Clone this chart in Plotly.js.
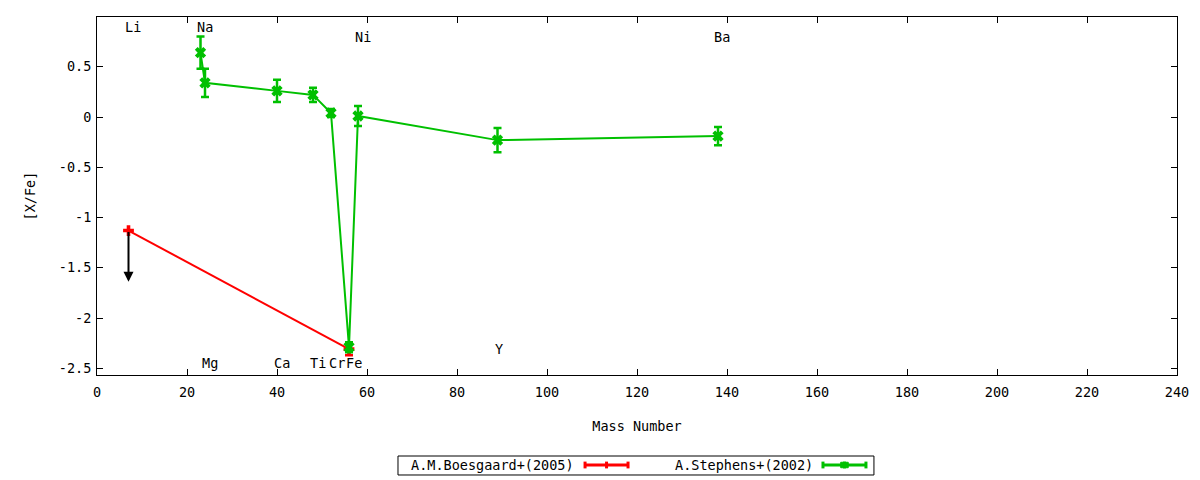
<!DOCTYPE html>
<html><head><meta charset="utf-8">
<script src="https://cdn.plot.ly/plotly-3.0.1.min.js"></script>
<style>html,body{margin:0;padding:0;background:#fff}#chart{width:1200px;height:480px}</style>
</head><body><div id="chart"></div>
<script>
// ---- data ----
const boesgaardName = "A.M.Boesgaard+(2005)";
const boesgaardMass = [7, 56];
const boesgaardValue = [-1.13, -2.31];
const boesgaardError = [0, 0.06];

const stephensName = "A.Stephens+(2002)";
const stephensMass = [23, 24, 40, 48, 52, 56, 58, 89, 138];
const stephensValue = [0.64, 0.34, 0.26, 0.22, 0.04, -2.29, 0.01, -0.23, -0.19];
const stephensError = [0.16, 0.14, 0.11, 0.07, 0.04, 0.05, 0.10, 0.12, 0.09];

// upper limit (arrow) for Li
const upperLimitMass = [7];
const upperLimitFrom = [-1.13];
const upperLimitTo = [-1.64];

// element labels
const elementNames  = ["Li", "Na", "Mg", "Ca", "Ti", "Cr", "Fe", "Ni", "Y", "Ba"];
const elementLabelX = [8.0, 24.0, 25.1, 41.1, 49.2, 53.3, 57.1, 59.1, 89.3, 138.9];
const elementLabelY = [0.90, 0.90, -2.45, -2.45, -2.45, -2.45, -2.45, 0.80, -2.31, 0.80];

// axis ticks
const xTickVals = [0, 20, 40, 60, 80, 100, 120, 140, 160, 180, 200, 220, 240];
const yTickVals = [0.5, 0, -0.5, -1, -1.5, -2, -2.5];
const yTickText = ["0.5", "0", "-0.5", "-1", "-1.5", "-2", "-2.5"];

// ---- chart ----
const FONT = "DejaVu Sans Mono";
const FS = 13.5;
const RED = "#ff0000";
const GREEN = "#00c000";

const traces = [
  {
    x: boesgaardMass, y: boesgaardValue, name: boesgaardName,
    type: "scatter", mode: "lines+markers",
    line: {color: RED, width: 2},
    marker: {color: RED, symbol: "cross", size: 9},
    error_y: {type: "data", array: boesgaardError, visible: true, color: RED, thickness: 2.5, width: 4}
  },
  {
    x: stephensMass, y: stephensValue, name: stephensName,
    type: "scatter", mode: "lines+markers",
    line: {color: GREEN, width: 2},
    marker: {color: GREEN, symbol: "x", size: 10},
    error_y: {type: "data", array: stephensError, visible: true, color: GREEN, thickness: 2.5, width: 4}
  }
];

const annotations = [];
for (let i = 0; i < elementNames.length; i++) {
  annotations.push({
    x: elementLabelX[i], y: elementLabelY[i], xref: "x", yref: "y",
    text: elementNames[i], showarrow: false, xanchor: "center", yanchor: "middle",
    font: {family: FONT, size: FS, color: "#000"}
  });
}
for (let i = 0; i < upperLimitMass.length; i++) {
  annotations.push({
    x: upperLimitMass[i], y: upperLimitTo[i], ax: upperLimitMass[i], ay: upperLimitFrom[i],
    xref: "x", yref: "y", axref: "x", ayref: "y",
    text: "", showarrow: true, arrowhead: 2, arrowsize: 1, arrowwidth: 2, arrowcolor: "#000"
  });
}

// custom gnuplot-like legend (text then sample)
const legY = -0.2514;
const capH = 0.0095;
annotations.push({
  x: 0.4435, y: legY, xref: "paper", yref: "paper", text: boesgaardName, showarrow: false,
  xanchor: "right", yanchor: "middle", font: {family: FONT, size: FS, color: "#000"}
});
annotations.push({
  x: 0.6648, y: legY, xref: "paper", yref: "paper", text: stephensName, showarrow: false,
  xanchor: "right", yanchor: "middle", font: {family: FONT, size: FS, color: "#000"}
});

const shapes = [
  {type: "rect", xref: "paper", yref: "paper", x0: 0.2787, x1: 0.7194, y0: -0.2263, y1: -0.2793,
   line: {color: "#000", width: 1}, fillcolor: "rgba(0,0,0,0)"}
];
function sample(x0, x1, color, withX) {
  shapes.push({type: "line", xref: "paper", yref: "paper", x0: x0, x1: x1, y0: legY, y1: legY, line: {color: color, width: 3}});
  const xm = (x0 + x1) / 2;
  [x0, xm, x1].forEach(function (xx) {
    shapes.push({type: "line", xref: "paper", yref: "paper", x0: xx, x1: xx, y0: legY - capH, y1: legY + capH, line: {color: color, width: 3}});
  });
  if (withX) {
    shapes.push({type: "rect", xref: "paper", yref: "paper", x0: xm - 0.0035, x1: xm + 0.0035, y0: legY - capH * 0.8, y1: legY + capH * 0.8,
      line: {color: color, width: 1}, fillcolor: color});
  }
}
sample(0.4519, 0.4917, RED, false);
sample(0.6722, 0.7120, GREEN, true);

const layout = {
  width: 1200, height: 480,
  margin: {l: 97, r: 23, t: 17, b: 105},
  paper_bgcolor: "#fff", plot_bgcolor: "#fff",
  showlegend: false,
  font: {family: FONT, size: FS, color: "#000"},
  xaxis: {
    range: [0, 240], tickvals: xTickVals, ticks: "inside", ticklen: 6, tickcolor: "#000",
    showline: true, linecolor: "#000", linewidth: 1, mirror: "allticks",
    showgrid: false, zeroline: false, ticklabelstandoff: 5,
    tickfont: {family: FONT, size: FS, color: "#000"},
    title: {text: "Mass Number", font: {family: FONT, size: FS, color: "#000"}, standoff: 22}
  },
  yaxis: {
    range: [-2.567, 0.995], tickvals: yTickVals, ticktext: yTickText, ticks: "inside", ticklen: 6, tickcolor: "#000",
    showline: true, linecolor: "#000", linewidth: 1, mirror: "allticks",
    showgrid: false, zeroline: false, ticklabelstandoff: 2,
    tickfont: {family: FONT, size: FS, color: "#000"},
    title: {text: "[X/Fe]", font: {family: FONT, size: FS, color: "#000"}, standoff: 20}
  },
  annotations: annotations,
  shapes: shapes
};

Plotly.newPlot("chart", traces, layout, {displayModeBar: false, staticPlot: true});
</script>
</body></html>
